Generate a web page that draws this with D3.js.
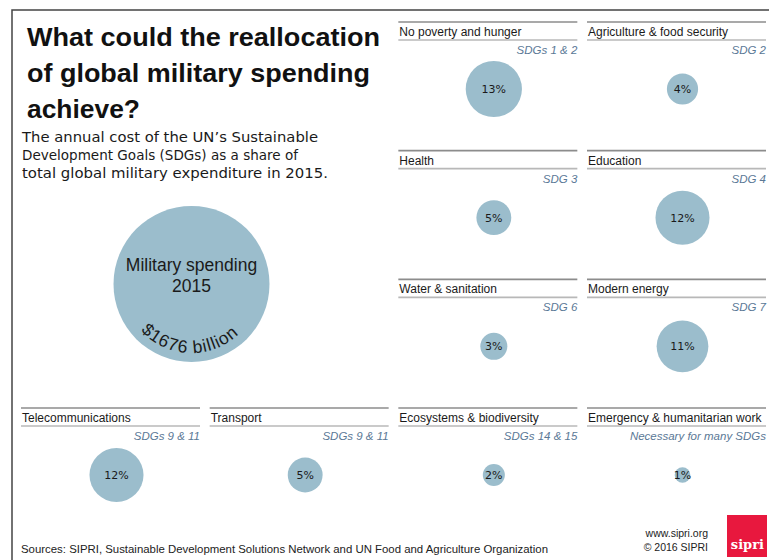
<!DOCTYPE html>
<html>
<head>
<meta charset="utf-8">
<script src="https://cdn.jsdelivr.net/npm/d3@7"></script>
<style>
  body { margin: 0; background: #fff; }
  svg { display: block; }
</style>
</head>
<body>
<div class="container"></div>
<script>
const w = 769;
const h = 560;

// data
const goals = [
  'No poverty and hunger', 'Agriculture & food security', 'Health', 'Education',
  'Water & sanitation', 'Modern energy', 'Telecommunications', 'Transport',
  'Ecosystems & biodiversity', 'Emergency & humanitarian work',
];
const sdgLabels = [
  'SDGs 1 & 2', 'SDG 2', 'SDG 3', 'SDG 4', 'SDG 6', 'SDG 7',
  'SDGs 9 & 11', 'SDGs 9 & 11', 'SDGs 14 & 15', 'Necessary for many SDGs',
];
const shares = [13, 4, 5, 12, 3, 11, 12, 5, 2, 1]; // % of military spending
const militaryShare = 100;
const militaryBillions = 1676;

// grid slot (column, row) of each panel
const slots = [[2, 0], [3, 0], [2, 1], [3, 1], [2, 2], [3, 2], [0, 3], [1, 3], [2, 3], [3, 3]];

const blue = '#9bbdcc';
const panelW = 179;

let svg = null;

window.onload = () => {
  setSvg();
  drawFrame();
  drawTitle();
  drawMilitary();
  drawPanels();
  drawFooter();
};

function setSvg() {
  svg = d3.select('.container').append('svg').attr('width', w).attr('height', h);
}

const size = d3.scaleSqrt().domain([0, 100]).range([0, 78]);
const colX = d3.scaleLinear().domain([0, 3]).range([21, 587]);
const rowY = d3.scaleLinear().domain([0, 3]).range([22, 408]);

function drawFrame() {
  svg.append('path')
    .attr('d', `M12,${h} L12,10 L${w},10`)
    .attr('fill', 'none')
    .attr('stroke', '#444')
    .attr('stroke-width', 1.5);
}

function fitText(sel, width) {
  sel.attr('textLength', width).attr('lengthAdjust', 'spacingAndGlyphs');
}

function drawTitle() {
  const title = ['What could the reallocation', 'of global military spending', 'achieve?'];
  const titleW = [353, 343, 113];
  svg.selectAll('text.title').data(title).enter().append('text')
    .attr('class', 'title')
    .attr('x', 27)
    .attr('y', (d, i) => 46 + i * 36)
    .attr('font-family', 'Liberation Sans, Arial, sans-serif')
    .attr('font-weight', 'bold')
    .attr('font-size', '25px')
    .attr('fill', '#111')
    .text((d) => d)
    .each(function (d, i) { fitText(d3.select(this), titleW[i]); });

  const sub = ['The annual cost of the UN\u2019s Sustainable',
    'Development Goals (SDGs) as a share of',
    'total global military expenditure in 2015.'];
  const subW = [296, 276, 306];
  svg.selectAll('text.sub').data(sub).enter().append('text')
    .attr('class', 'sub')
    .attr('x', 22)
    .attr('y', (d, i) => 142 + i * 18)
    .attr('font-family', 'DejaVu Sans, Verdana, sans-serif')
    .attr('font-size', '13.5px')
    .attr('fill', '#1a1a1a')
    .text((d) => d)
    .each(function (d, i) { fitText(d3.select(this), subW[i]); });
}

function drawMilitary() {
  const cx = 191.5;
  const cy = 284;
  const r = size(militaryShare);
  const g = svg.append('g').attr('transform', `translate(${cx},${cy})`);
  g.append('circle').attr('r', r).attr('fill', blue);

  g.selectAll('text.lab').data(['Military spending', '2015']).enter().append('text')
    .attr('class', 'lab')
    .attr('y', (d, i) => -13 + i * 21)
    .attr('text-anchor', 'middle')
    .attr('font-family', 'Liberation Sans, Arial, sans-serif')
    .attr('font-size', '17.5px')
    .attr('fill', '#1a1a1a')
    .text((d) => d);

  // amount written round the bottom of the circle
  const tr = r - 9;
  g.append('path')
    .attr('id', 'arcPath')
    .attr('d', `M${-tr},0 A${tr},${tr} 0 0 0 ${tr},0`)
    .attr('fill', 'none');
  g.append('text')
    .attr('font-family', 'Liberation Sans, Arial, sans-serif')
    .attr('font-size', '17.5px')
    .attr('letter-spacing', '0.9px')
    .attr('fill', '#1a1a1a')
    .append('textPath')
    .attr('href', '#arcPath')
    .attr('startOffset', '49%')
    .attr('text-anchor', 'middle')
    .text(`$${militaryBillions} billion`);
}

function drawPanels() {
  const panels = svg.selectAll('g.panel').data(goals).enter().append('g')
    .attr('class', 'panel')
    .attr('transform', (d, i) => `translate(${colX(slots[i][0])},${rowY(slots[i][1])})`);

  panels.append('line')
    .attr('x1', 0).attr('x2', panelW).attr('y1', 0).attr('y2', 0)
    .attr('stroke', '#8c8c8c').attr('stroke-width', 1.6);
  panels.append('line')
    .attr('x1', 0).attr('x2', panelW).attr('y1', 18).attr('y2', 18)
    .attr('stroke', '#b8b8b8').attr('stroke-width', 1.6);

  panels.append('text')
    .attr('x', 1)
    .attr('y', 14)
    .attr('font-family', 'Liberation Sans, Arial, sans-serif')
    .attr('font-size', '12px')
    .attr('fill', '#1a1a1a')
    .text((d) => d);

  panels.append('text')
    .attr('x', panelW)
    .attr('y', 32)
    .attr('text-anchor', 'end')
    .attr('font-family', 'Liberation Sans, Arial, sans-serif')
    .attr('font-style', 'italic')
    .attr('font-size', '11.5px')
    .attr('fill', '#5a7896')
    .text((d, i) => sdgLabels[i]);

  panels.append('circle')
    .attr('cx', panelW / 2 + 6)
    .attr('cy', 67)
    .attr('r', (d, i) => size(shares[i]))
    .attr('fill', blue);

  panels.append('text')
    .attr('x', panelW / 2 + 6)
    .attr('y', 71)
    .attr('text-anchor', 'middle')
    .attr('font-family', 'DejaVu Sans, Verdana, sans-serif')
    .attr('font-size', '11px')
    .attr('fill', '#1a1a1a')
    .text((d, i) => `${shares[i]}%`);
}

function drawFooter() {
  svg.append('text')
    .attr('x', 21)
    .attr('y', 553)
    .attr('font-family', 'Liberation Sans Narrow, Liberation Sans, Arial, sans-serif')
    .attr('font-size', '11.5px')
    .attr('fill', '#222')
    .text('Sources: SIPRI, Sustainable Development Solutions Network and UN Food and Agriculture Organization')
    .call(fitText, 527);

  svg.selectAll('text.credit').data(['www.sipri.org', '\u00a9 2016 SIPRI']).enter().append('text')
    .attr('class', 'credit')
    .attr('x', 708)
    .attr('y', (d, i) => 537 + i * 14)
    .attr('text-anchor', 'end')
    .attr('font-family', 'Liberation Sans Narrow, Liberation Sans, Arial, sans-serif')
    .attr('font-size', '10.5px')
    .attr('fill', '#222')
    .text((d) => d);

  svg.append('rect')
    .attr('x', 727).attr('y', 515).attr('width', 40).attr('height', 42)
    .attr('fill', '#e8183e');
  svg.append('text')
    .attr('x', 764)
    .attr('y', 549)
    .attr('text-anchor', 'end')
    .attr('font-family', 'DejaVu Serif, serif')
    .attr('font-weight', 'bold')
    .attr('font-size', '13px')
    .attr('fill', '#fff')
    .text('sipri');
}
</script>
</body>
</html>
